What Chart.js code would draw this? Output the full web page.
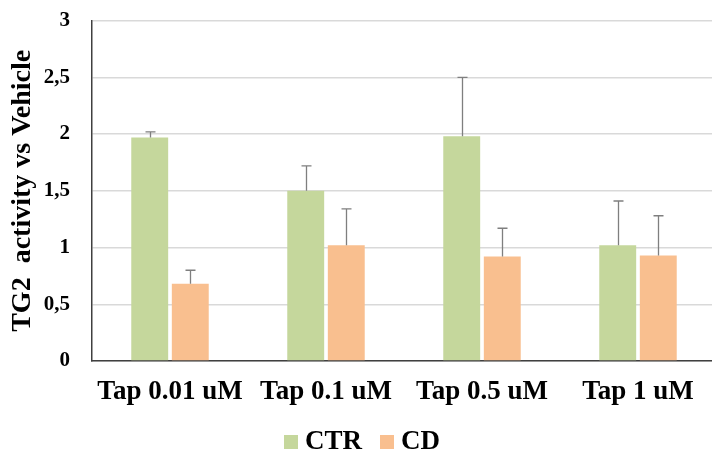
<!DOCTYPE html>
<html>
<head>
<meta charset="utf-8">
<script src="https://cdn.jsdelivr.net/npm/chart.js@4"></script>
<style>
  html, body { margin: 0; padding: 0; background: #fff; overflow: hidden; }
  #wrap { width: 716px; height: 466px; margin-top: -14px; }
</style>
</head>
<body>
<div id="wrap"><canvas id="tgChart"></canvas></div>
<script>
// data
const categories = ['Tap 0.01 uM', 'Tap 0.1 uM', 'Tap 0.5 uM', 'Tap 1 uM'];
const ctrValues = [1.97, 1.50, 1.98, 1.02];
const ctrErrors = [0.05, 0.22, 0.52, 0.39];
const cdValues = [0.68, 1.02, 0.92, 0.93];
const cdErrors = [0.12, 0.32, 0.25, 0.35];
const yTicks = [0, 0.5, 1, 1.5, 2, 2.5, 3];

const serif = '"Liberation Serif", "Times New Roman", serif';

// draws the upper half of the error bars
const errorBars = {
    id: 'errorBars',
    afterDatasetsDraw(chart) {
        const ctx = chart.ctx;
        const y = chart.scales.y;
        ctx.save();
        ctx.strokeStyle = '#7f7f7f';
        ctx.lineWidth = 1.3;
        chart.data.datasets.forEach((ds, i) => {
            const meta = chart.getDatasetMeta(i);
            meta.data.forEach((bar, j) => {
                const top = y.getPixelForValue(ds.data[j] + ds.errors[j]);
                const x = Math.round(bar.x) + 0.5;
                ctx.beginPath();
                ctx.moveTo(x, bar.y);
                ctx.lineTo(x, top);
                ctx.moveTo(x - 5, top);
                ctx.lineTo(x + 5, top);
                ctx.stroke();
            });
        });
        ctx.restore();
    }
};

// legend under the labels, box close to its text
const bottomLegend = {
    id: 'bottomLegend',
    afterDraw(chart) {
        const ctx = chart.ctx;
        const sets = chart.data.datasets;
        ctx.save();
        ctx.font = 'bold 27px ' + serif;
        ctx.textBaseline = 'middle';
        const box = 14, gap = 7, itemGap = 18;
        let total = 0;
        sets.forEach((ds, i) => {
            total += box + gap + ctx.measureText(ds.label).width + (i ? itemGap : 0);
        });
        let x = 362 - total / 2;
        const cy = 455;
        sets.forEach((ds, i) => {
            if (i) x += itemGap;
            ctx.fillStyle = ds.backgroundColor;
            ctx.fillRect(x, cy - 6, box, box);
            x += box + gap;
            ctx.fillStyle = '#000';
            ctx.fillText(ds.label, x, cy + 1);
            x += ctx.measureText(ds.label).width;
        });
        ctx.restore();
    }
};

const ctx = document.getElementById('tgChart').getContext('2d');
const tgChart = new Chart(ctx, {
    type: 'bar',
    data: {
        labels: categories,
        datasets: [{
            label: 'CTR',
            data: ctrValues,
            errors: ctrErrors,
            backgroundColor: '#c5d79c',
            categoryPercentage: 0.52,
            barPercentage: 0.91
        }, {
            label: 'CD',
            data: cdValues,
            errors: cdErrors,
            backgroundColor: '#f9bf8f',
            categoryPercentage: 0.52,
            barPercentage: 0.91
        }]
    },
    options: {
        responsive: true,
        maintainAspectRatio: false,
        animation: false,
        layout: { padding: { top: 0, right: 0, left: 0, bottom: 0 } },
        scales: {
            x: {
                grid: { display: false, drawTicks: false },
                border: { color: '#404040', width: 1.5 },
                afterFit: (axis) => { axis.height = 91; },
                ticks: {
                    color: '#000',
                    padding: 15,
                    font: { family: serif, size: 27, weight: 'bold' }
                }
            },
            y: {
                min: 0,
                max: 3,
                afterBuildTicks: (axis) => { axis.ticks = yTicks.map(v => ({ value: v })); },
                afterFit: (axis) => { axis.width = 92; },
                grid: { color: '#d9d9d9', lineWidth: 1.5, drawTicks: false },
                border: { color: '#404040', width: 1.5 },
                ticks: {
                    color: '#000',
                    padding: 22,
                    font: { family: serif, size: 21, weight: 'bold' },
                    callback: (v) => String(v).replace('.', ',')
                },
                title: {
                    display: true,
                    text: 'TG2  activity vs Vehicle',
                    color: '#000',
                    padding: { top: 6, bottom: 0 },
                    font: { family: serif, size: 28, weight: 'bold' }
                }
            }
        },
        plugins: {
            legend: { display: false },
            tooltip: { enabled: false }
        }
    },
    plugins: [errorBars, bottomLegend]
});
</script>
</body>
</html>
